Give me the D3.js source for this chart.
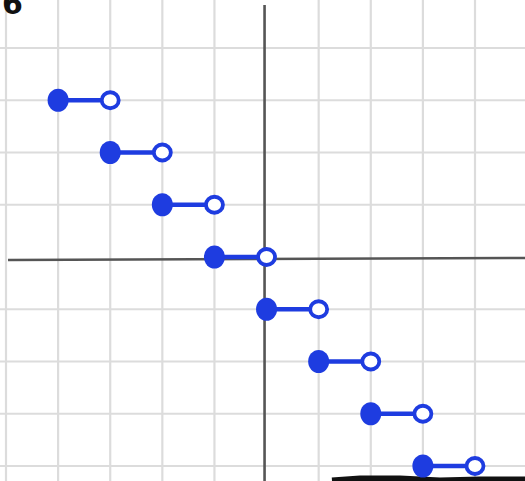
<!DOCTYPE html>
<html>
<head>
<meta charset="utf-8">
<script src="https://cdn.jsdelivr.net/npm/d3@7"></script>
<style>
  html, body { margin: 0; padding: 0; background: #fff; }
  svg { display: block; }
</style>
</head>
<body>
<svg></svg>
<script>
var width = 525;
var height = 481;

// step pieces: closed dot at the left, open dot at the right
var startX = [-4, -3, -2, -1, 0, 1, 2, 3];
var endX = [-3, -2, -1, 0, 1, 2, 3, 4];
var stepY = [3, 2, 1, 0, -1, -2, -3, -4];

// grid lines
var gridX = [-5, -4, -3, -2, -1, 1, 2, 3, 4, 5];
var gridY = [5, 4, 3, 2, 1, -1, -2, -3, -4, -5];

var blue = '#1e3ce0';

var svg = d3.select('svg')
    .attr('width', width)
    .attr('height', height);

var x = d3.scaleLinear()
    .domain([-5, 4])
    .range([6, 475]);

var y = d3.scaleLinear()
    .domain([4, -4])
    .range([48, 466]);

// light grid
svg.append('g').selectAll('line')
    .data(gridX)
    .enter().append('line')
    .attr('x1', function(d){ return x(d); })
    .attr('x2', function(d){ return x(d); })
    .attr('y1', 0)
    .attr('y2', height)
    .style('stroke', '#dcdcdc')
    .style('stroke-width', 2.2);

svg.append('g').selectAll('line')
    .data(gridY)
    .enter().append('line')
    .attr('y1', function(d){ return y(d); })
    .attr('y2', function(d){ return y(d); })
    .attr('x1', 0)
    .attr('x2', width)
    .style('stroke', '#dcdcdc')
    .style('stroke-width', 2.2);

// axes
svg.append('line')
    .attr('x1', 8).attr('x2', width)
    .attr('y1', y(0) + 3).attr('y2', y(0) + 1)
    .style('stroke', '#555')
    .style('stroke-width', 2.6);

svg.append('line')
    .attr('x1', x(0) - 2).attr('x2', x(0) - 2)
    .attr('y1', 5).attr('y2', height)
    .style('stroke', '#555')
    .style('stroke-width', 2.6);

// problem number, cut off at the top
svg.append('text')
    .attr('x', 2)
    .attr('y', 14)
    .style('font-family', 'DejaVu Sans')
    .style('font-weight', 'bold')
    .style('font-size', '30px')
    .style('fill', '#111')
    .text('6');

// scribble of the next line at the bottom edge
svg.append('path')
    .attr('d', 'M332,481 L360,479 L400,479 L440,481 L480,480 L525,480')
    .style('fill', 'none')
    .style('stroke', '#111')
    .style('stroke-width', 7);

var steps = d3.range(0, stepY.length).map(function(i){
    return { x0: startX[i], x1: endX[i], v: stepY[i] };
});

var g = svg.append('g');

g.selectAll('line.seg')
    .data(steps)
    .enter().append('line')
    .attr('class', 'seg')
    .attr('x1', function(d){ return x(d.x0); })
    .attr('x2', function(d){ return x(d.x1) - 9; })
    .attr('y1', function(d){ return y(d.v); })
    .attr('y2', function(d){ return y(d.v); })
    .style('stroke', blue)
    .style('stroke-width', 4.5)
    .style('stroke-linecap', 'round');

g.selectAll('ellipse.closed')
    .data(steps)
    .enter().append('ellipse')
    .attr('class', 'closed')
    .attr('cx', function(d){ return x(d.x0); })
    .attr('cy', function(d){ return y(d.v); })
    .attr('rx', 10.5)
    .attr('ry', 11.5)
    .style('fill', blue);

g.selectAll('ellipse.open')
    .data(steps)
    .enter().append('ellipse')
    .attr('class', 'open')
    .attr('cx', function(d){ return x(d.x1); })
    .attr('cy', function(d){ return y(d.v); })
    .attr('rx', 8.5)
    .attr('ry', 8)
    .style('fill', '#fff')
    .style('stroke', blue)
    .style('stroke-width', 3.8);
</script>
</body>
</html>
